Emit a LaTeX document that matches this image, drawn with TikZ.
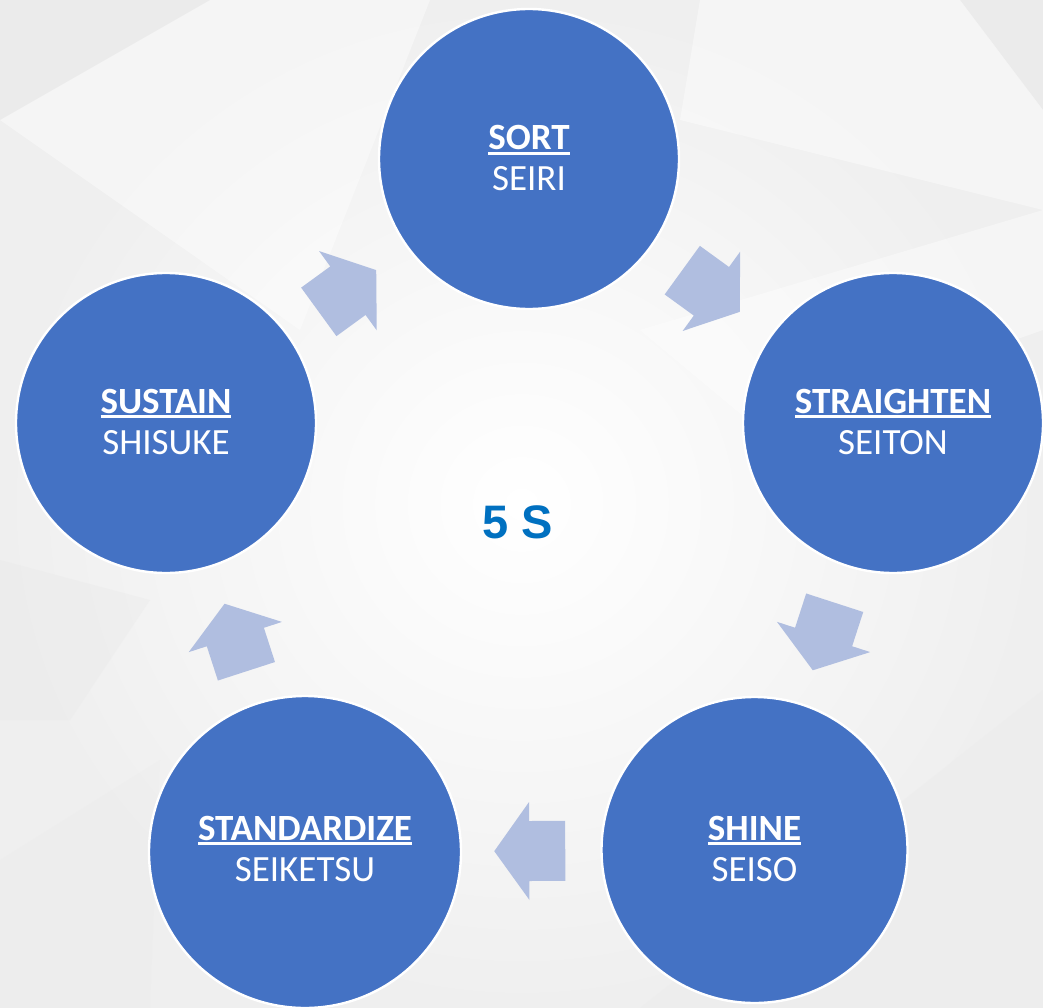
\documentclass[tikz,border=0pt]{standalone}
\usepackage{fontspec}
\setmainfont{Carlito}
\newfontfamily\headfont{Liberation Sans}
\usetikzlibrary{calc}

\definecolor{circblue}{HTML}{4472C4}
\definecolor{flowblue}{HTML}{B0BEE0}
\definecolor{titleblue}{HTML}{0070C0}
\definecolor{bgdark}{HTML}{EFEFEF}
\definecolor{bgfacet}{HTML}{E8E8E8}

% bold word with a thick underline just below the baseline
\newcommand\ulword[1]{\setbox0\hbox{#1}\rlap{\rule[-4.6pt]{\wd0}{2.3pt}}\box0}

% block arrow from the centre of one stage towards the next, placed half way
\newcommand\cyclearrow[2]{%
  \pgfmathanglebetweenpoints{\pgfpointanchor{#1}{center}}{\pgfpointanchor{#2}{center}}%
  \edef\arrowang{\pgfmathresult}%
  \begin{scope}[shift={($(#1)!0.5!(#2)$)}, rotate=\arrowang]
    \fill[flow] (-35.5,-30) -- (0.5,-30) -- (0.5,-49) -- (35.5,0)
      -- (0.5,49) -- (0.5,30) -- (-35.5,30) -- cycle;
  \end{scope}}

\tikzset{
  stage/.style={circle, fill=circblue, draw=white, line width=2.4pt,
    inner sep=0pt, minimum size=#1},
  stagetitle/.style={anchor=base, inner sep=0pt, text=white,
    font=\fontsize{37}{41}\selectfont\bfseries},
  stagesub/.style={anchor=base, inner sep=0pt, text=white,
    font=\fontsize{37}{41}\selectfont},
  flow/.style={fill=flowblue},
  core/.style={anchor=base, inner sep=0pt, text=titleblue,
    font=\headfont\bfseries\fontsize{47}{50}\selectfont},
}

\begin{document}
\begin{tikzpicture}[x=1pt, y=-1pt]
\useasboundingbox (0,0) rectangle (1043,1008);

% soft faceted backdrop
\shade[inner color=white, outer color=bgdark] (0,0) rectangle (1043,1008);
\fill[white, opacity=0.4] (0,120) -- (210,0) -- (430,0) -- (300,330) -- cycle;
\fill[bgfacet, opacity=0.5] (0,0) -- (210,0) -- (0,120) -- cycle;
\fill[bgfacet, opacity=0.5] (960,0) -- (1043,0) -- (1043,110) -- cycle;
\fill[white, opacity=0.4] (700,0) -- (960,0) -- (1043,110) -- (1043,210) -- (680,120) -- cycle;
\fill[bgfacet, opacity=0.35] (0,560) -- (150,600) -- (70,720) -- (0,720) -- cycle;
\fill[bgfacet, opacity=0.25] (640,1008) -- (1043,690) -- (1043,1008) -- cycle;
\fill[white, opacity=0.4] (640,330) -- (1043,210) -- (1043,330) -- (760,430) -- cycle;
\fill[bgfacet, opacity=0.2] (0,860) -- (160,760) -- (150,1008) -- (0,1008) -- cycle;

% the five stages
\node[stage=300] (sort)   at (529,159)   {};
\node[stage=300] (strait) at (893,423)   {};
\node[stage=306] (shine)  at (754.5,850) {};
\node[stage=312] (stand)  at (305,852)   {};
\node[stage=300] (sust)   at (166,423)   {};

% arrows running clockwise round the cycle
\cyclearrow{sort}{strait}
\cyclearrow{strait}{shine}
\cyclearrow{shine}{stand}
\cyclearrow{stand}{sust}
\cyclearrow{sust}{sort}

% stage names
\node[stagetitle] (sort-t)   at ($(sort)+(0,-9)$)    {\ulword{SORT}};
\node[stagesub]   (sort-s)   at ($(sort)+(0,32)$)    {SEIRI};
\node[stagetitle] (strait-t) at ($(strait)+(0,-10)$) {\ulword{STRAIGHTEN}};
\node[stagesub]   (strait-s) at ($(strait)+(0,31)$)  {SEITON};
\node[stagetitle] (shine-t)  at ($(shine)+(0,-10)$)  {\ulword{SHINE}};
\node[stagesub]   (shine-s)  at ($(shine)+(0,31)$)   {SEISO};
\node[stagetitle] (stand-t)  at ($(stand)+(0,-12)$)  {\ulword{STANDARDIZE}};
\node[stagesub]   (stand-s)  at ($(stand)+(0,29)$)   {SEIKETSU};
\node[stagetitle] (sust-t)   at ($(sust)+(0,-10)$)   {\ulword{SUSTAIN}};
\node[stagesub]   (sust-s)   at ($(sust)+(0,31)$)    {SHISUKE};

% centre title
\node[core] (five) at (518,538) {5 S};
\end{tikzpicture}
\end{document}
